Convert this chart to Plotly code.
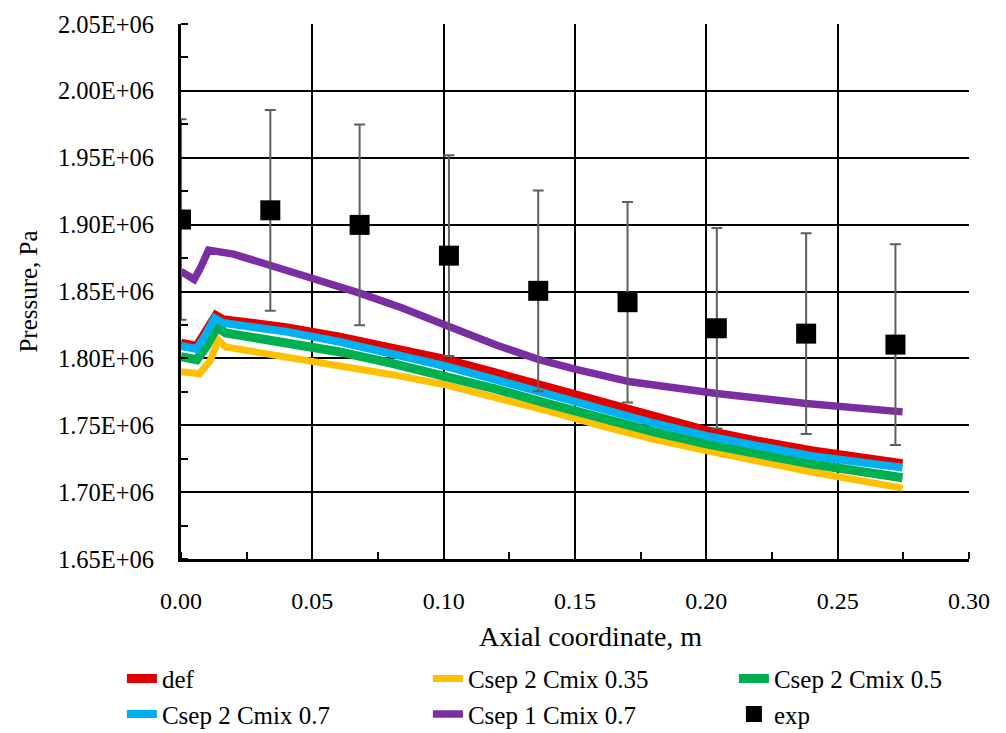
import plotly.graph_objects as go

# ---------------- data ----------------
x_def = [0.0, 0.006, 0.0095, 0.0133, 0.016, 0.02, 0.04, 0.06, 0.08, 0.10, 0.12, 0.14, 0.16, 0.18, 0.20, 0.22, 0.24, 0.2747]
p_def = [1.8113, 1.8090, 1.8200, 1.8320, 1.8290, 1.8280, 1.8230, 1.8160, 1.8085, 1.7995, 1.7890, 1.7780, 1.7670, 1.7560, 1.7460, 1.7380, 1.7310, 1.7213]

x_c035 = [0.0, 0.007, 0.011, 0.0143, 0.017, 0.02, 0.04, 0.06, 0.08, 0.10, 0.12, 0.14, 0.16, 0.18, 0.20, 0.22, 0.24, 0.2747]
p_c035 = [1.7900, 1.7885, 1.7980, 1.8135, 1.8085, 1.8075, 1.8020, 1.7950, 1.7880, 1.7805, 1.7710, 1.7605, 1.7495, 1.7395, 1.7310, 1.7225, 1.7150, 1.7030]

x_c05 = [0.0, 0.006, 0.010, 0.0137, 0.017, 0.02, 0.04, 0.06, 0.08, 0.10, 0.12, 0.14, 0.16, 0.18, 0.20, 0.22, 0.24, 0.2747]
p_c05 = [1.8012, 1.7990, 1.8100, 1.8235, 1.8190, 1.8180, 1.8120, 1.8050, 1.7965, 1.7870, 1.7770, 1.7660, 1.7550, 1.7450, 1.7360, 1.7280, 1.7210, 1.7108]

x_c07 = [0.0, 0.006, 0.0095, 0.0128, 0.016, 0.02, 0.04, 0.06, 0.08, 0.10, 0.12, 0.14, 0.16, 0.18, 0.20, 0.22, 0.24, 0.2747]
p_c07 = [1.8093, 1.8070, 1.8180, 1.8300, 1.8265, 1.8255, 1.8200, 1.8125, 1.8040, 1.7945, 1.7840, 1.7730, 1.7620, 1.7515, 1.7420, 1.7340, 1.7270, 1.7183]

x_s1 = [0.0, 0.005, 0.0075, 0.0105, 0.02, 0.034, 0.048, 0.068, 0.084, 0.102, 0.12, 0.136, 0.15, 0.171, 0.19, 0.204, 0.238, 0.2747]
p_s1 = [1.8650, 1.8590, 1.8680, 1.8810, 1.8780, 1.8690, 1.8610, 1.8488, 1.8378, 1.8238, 1.8100, 1.7993, 1.7920, 1.7825, 1.7770, 1.7738, 1.7663, 1.7600]

x_exp = [0.0, 0.034, 0.068, 0.102, 0.136, 0.170, 0.204, 0.238, 0.272]
p_exp = [1.9038, 1.9107, 1.8998, 1.8768, 1.8505, 1.8420, 1.8225, 1.8185, 1.8103]
err_exp = [75000, 75000, 75000, 75000, 75000, 75000, 75000, 75000, 75000]

y_ticks = [1.65e6, 1.70e6, 1.75e6, 1.80e6, 1.85e6, 1.90e6, 1.95e6, 2.00e6, 2.05e6]
y_ticklabels = ["1.65E+06", "1.70E+06", "1.75E+06", "1.80E+06", "1.85E+06",
                "1.90E+06", "1.95E+06", "2.00E+06", "2.05E+06"]
x_ticks = [0.0, 0.05, 0.10, 0.15, 0.20, 0.25, 0.30]
x_ticklabels = ["0.00", "0.05", "0.10", "0.15", "0.20", "0.25", "0.30"]

FONT = "Liberation Serif"

def mpa(v):
    return [a * 1e6 for a in v]

fig = go.Figure()
series = [
    ("def", x_def, p_def, "#E00000", 9),
    ("Csep 2 Cmix 0.35", x_c035, p_c035, "#FFC000", 7),
    ("Csep 2 Cmix 0.5", x_c05, p_c05, "#00B050", 9),
    ("Csep 2 Cmix 0.7", x_c07, p_c07, "#00B0F0", 8),
    ("Csep 1 Cmix 0.7", x_s1, p_s1, "#7A2EA2", 7.5),
]
for name, xs, ps, col, w in series:
    fig.add_trace(go.Scatter(x=xs, y=mpa(ps), mode="lines", name=name,
                             line=dict(color=col, width=w)))

fig.add_trace(go.Scatter(
    x=x_exp, y=mpa(p_exp), mode="markers", name="exp",
    marker=dict(symbol="square", size=20, color="black"),
    error_y=dict(type="data", array=err_exp, color="#5f5f5f", thickness=2, width=5.5),
))

fig.update_layout(
    width=1006, height=733,
    margin=dict(l=181, r=37, t=24, b=174, autoexpand=False),
    paper_bgcolor="white", plot_bgcolor="white",
    font=dict(family=FONT, size=24, color="black"),
    showlegend=True,
    legend=dict(orientation="h", xref="paper", yref="paper",
                x=-0.075, xanchor="left", y=-0.181, yanchor="top",
                entrywidth=261, entrywidthmode="pixels",
                font=dict(family=FONT, size=25, color="black"),
                bgcolor="rgba(0,0,0,0)", traceorder="normal"),
    annotations=[dict(text="Axial coordinate, m", xref="paper", yref="paper",
                      x=0.52, y=-0.145, xanchor="center", yanchor="middle",
                      showarrow=False, font=dict(family=FONT, size=28, color="black"))],
)

fig.update_xaxes(
    range=[0, 0.30], tickvals=x_ticks, ticktext=x_ticklabels,
    showgrid=True, gridcolor="black", gridwidth=2,
    showline=True, linecolor="black", linewidth=3,
    ticks="", ticklabelstandoff=18, automargin=False,
    minor=dict(dtick=0.025, tick0=0, ticks="inside", ticklen=7, tickcolor="black", tickwidth=2, showgrid=False),
    zeroline=False,
    tickfont=dict(family=FONT, size=24),
)
fig.update_yaxes(
    range=[1.65e6, 2.05e6], tickvals=y_ticks, ticktext=y_ticklabels,
    showgrid=True, gridcolor="black", gridwidth=2,
    showline=True, linecolor="black", linewidth=3,
    ticks="", ticklabelstandoff=19, automargin=False,
    minor=dict(dtick=25000, tick0=1.65e6, ticks="inside", ticklen=7, tickcolor="black", tickwidth=2, showgrid=False),
    zeroline=False,
    title=dict(text="Pressure, Pa", font=dict(family=FONT, size=25), standoff=14),
    tickfont=dict(family=FONT, size=24.5),
)

fig.write_html("out.html")
